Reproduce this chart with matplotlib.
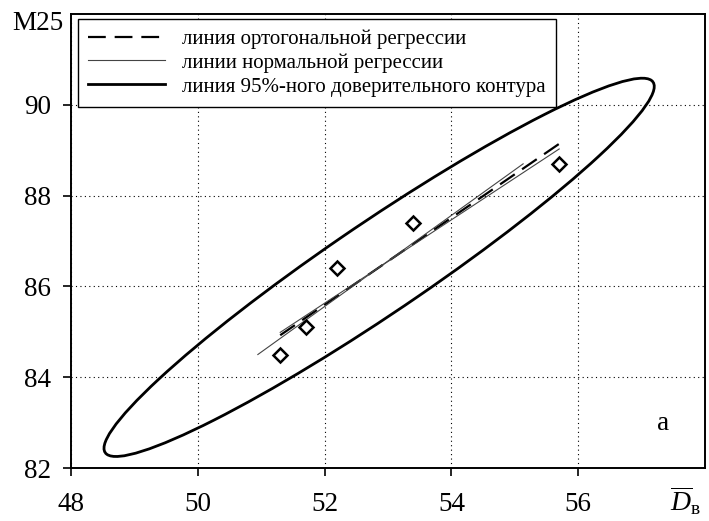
import numpy as np
import matplotlib
matplotlib.use("Agg")
import matplotlib.pyplot as plt
from matplotlib.patches import Ellipse
from matplotlib.lines import Line2D

plt.rcParams['font.family'] = ['Liberation Serif', 'DejaVu Serif']
plt.rcParams['mathtext.fontset'] = 'custom'
plt.rcParams['mathtext.rm'] = 'Liberation Serif'
plt.rcParams['mathtext.it'] = 'Liberation Serif:italic'

# measured points
D_v = [51.3, 51.7, 52.2, 53.4, 55.7]
M25 = [84.5, 85.1, 86.4, 87.4, 88.7]

xticks = [48, 50, 52, 54, 56]
yticks = [82, 84, 86, 88, 90]

x = np.array(D_v)
y = np.array(M25)
mx, my = x.mean(), y.mean()

# normal regressions (y on x, x on y)
k_yx, b_yx = np.polyfit(x, y, 1)
k_xy, b_xy = np.polyfit(y, x, 1)

# orthogonal regression - main axis of covariance
cov = np.cov(x, y)
vals, vecs = np.linalg.eigh(cov)
main = vecs[:, 1]
k_ort = main[1] / main[0]

# 95% confidence contour (chi2, 2 dof)
chi2_95 = 5.991
ell_w = 2 * np.sqrt(chi2_95 * vals[1])
ell_h = 2 * np.sqrt(chi2_95 * vals[0])
ell_ang = np.degrees(np.arctan2(main[1], main[0]))

fig = plt.figure(figsize=(7.09, 5.21), dpi=100)
ax = fig.add_axes([0.1001, 0.1017, 0.8943, 0.8714])

ax.set_xlim(48, 58)
ax.set_ylim(82, 92)
ax.set_xticks(xticks)
ax.set_yticks(yticks)
ax.tick_params(axis='both', direction='out', length=5.5, width=1.2, labelsize=19.5)
ax.tick_params(axis='x', pad=12)
ax.tick_params(axis='y', pad=9)
for s in ax.spines.values():
    s.set_linewidth(1.4)
ax.grid(True, color='black', linestyle=(0, (1, 3)), linewidth=0.8)
ax.set_axisbelow(True)

xs = np.array([x.min(), x.max()])
ax.plot(xs, my + k_ort * (xs - mx), color='black', lw=1.6, dashes=(8, 4))
ax.plot(xs, k_yx * xs + b_yx, color='#444444', lw=0.8)
ys = np.array([y.min(), y.max()])
ax.plot(k_xy * ys + b_xy, ys, color='#444444', lw=0.8)

ax.add_patch(Ellipse((mx, my), ell_w, ell_h, angle=ell_ang,
                     fill=False, edgecolor='black', lw=2.0))

ax.plot(x, y, 'D', markersize=7.5, markerfacecolor='none',
        markeredgecolor='black', markeredgewidth=1.8)

handles = [
    Line2D([], [], color='black', lw=1.6, dashes=(8, 4)),
    Line2D([], [], color='#444444', lw=0.8),
    Line2D([], [], color='black', lw=2.0),
]
labels = ['линия ортогональной регрессии',
          'линии нормальной регрессии',
          'линия 95%-ного доверительного контура']
leg = ax.legend(handles, labels, loc='upper left', bbox_to_anchor=(0.011, 0.989),
                borderaxespad=0, fontsize=15, frameon=True, fancybox=False,
                framealpha=1, edgecolor='black', handlelength=3.7,
                handletextpad=0.8, labelspacing=0.2, borderpad=0.5)
leg.get_frame().set_linewidth(1.0)

ax.text(57.34, 82.84, 'а', fontsize=19.5, ha='center', va='baseline')
ax.text(-0.012, 0.98, 'M25', transform=ax.transAxes, fontsize=19.5,
        ha='right', va='center')
ax.text(0.97, -0.095, r'$\overline{D}_{\mathrm{в}}$', transform=ax.transAxes,
        fontsize=20, ha='center', va='baseline')

fig.savefig('out.png', dpi=100)
